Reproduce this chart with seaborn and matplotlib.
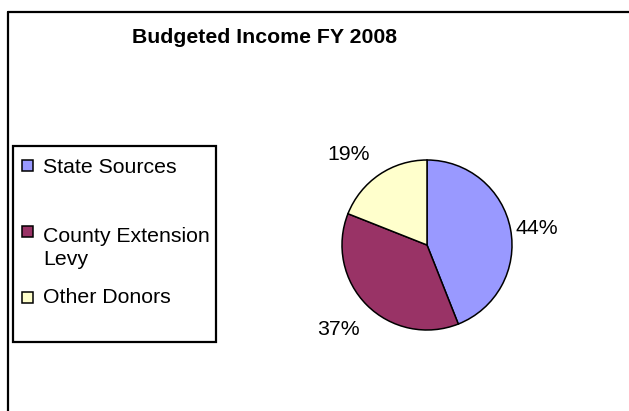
import numpy as np
import matplotlib
matplotlib.use("Agg")
import matplotlib.pyplot as plt
from matplotlib.patches import Rectangle
from matplotlib.lines import Line2D
import seaborn as sns

# ---- data ----
categories = ["State Sources", "County Extension\nLevy", "Other Donors"]
shares = [44, 37, 19]
pct_labels = ["44%", "37%", "19%"]
title = "Budgeted Income FY 2008"

# ---- style ----
sns.set_theme(style="white")
plt.rcParams["font.family"] = ["Liberation Sans", "DejaVu Sans"]
plt.rcParams["text.color"] = "black"
palette = sns.color_palette(["#9999FF", "#993366", "#FFFFCC"])
FS = 15.3

W, H = 629, 411
fig = plt.figure(figsize=(W / 100, H / 100), dpi=100)
fig.patch.set_facecolor("white")

def px(x, y):
    """pixel (from top-left) -> figure fraction"""
    return x / W, 1 - y / H

# outer frame (top and left edges visible)
fig.add_artist(Line2D([8 / W, 8 / W], [0, 1 - 12 / H], color="black", lw=1.6,
                      transform=fig.transFigure))
fig.add_artist(Line2D([8 / W, 1], [1 - 12 / H, 1 - 12 / H], color="black", lw=1.6,
                      transform=fig.transFigure))

# title
tx, ty = px(264, 43)
fig.text(tx, ty, title, ha="center", va="baseline", fontsize=FS, fontweight="bold",
         color="black")

# pie
cx, cy, r = 427, 245, 85
ax = fig.add_axes([(cx - r) / W, (H - cy - r) / H, 2 * r / W, 2 * r / H])
wedges, _ = ax.pie(shares, colors=palette, startangle=90, counterclock=False,
                   wedgeprops=dict(edgecolor="black", linewidth=1.1))
for w in wedges:
    w.set_clip_on(False)
ax.set_xlim(-1, 1)
ax.set_ylim(-1, 1)
ax.set_aspect("auto")
ax.axis("off")

# percent labels (offsets in pixels from wedge edge)
label_style = [(5, 1, "left", "center"),
               (-7, -15, "right", "top"),
               (-9, 15, "right", "baseline")]
for w, lab, (dx, dy, ha, va) in zip(wedges, pct_labels, label_style):
    ang = np.deg2rad((w.theta1 + w.theta2) / 2)
    ax.annotate(lab, xy=(np.cos(ang), np.sin(ang)), xytext=(dx * 0.72, dy * 0.72),
                textcoords="offset points", ha=ha, va=va, fontsize=FS,
                color="black", annotation_clip=False)

# legend box
lx0, ly0 = px(13, 342)
fig.add_artist(Rectangle((lx0, ly0), 203 / W, 196 / H, transform=fig.transFigure,
                         facecolor="white", edgecolor="black", lw=1.6))
marker_y = [166, 232, 297]
text_base = [173, 265, 303]   # baseline of the last text line
for cat, col, my, tb in zip(categories, palette, marker_y, text_base):
    mx0, my0 = px(22, my + 5.5)
    fig.add_artist(Rectangle((mx0, my0), 11 / W, 11 / H, transform=fig.transFigure,
                             facecolor=col, edgecolor="black", lw=1.1))
    tx, ty = px(43, tb)
    fig.text(tx, ty, cat, ha="left", va="baseline", fontsize=FS, linespacing=1.28,
             color="black")

fig.savefig("out.png", dpi=100)
